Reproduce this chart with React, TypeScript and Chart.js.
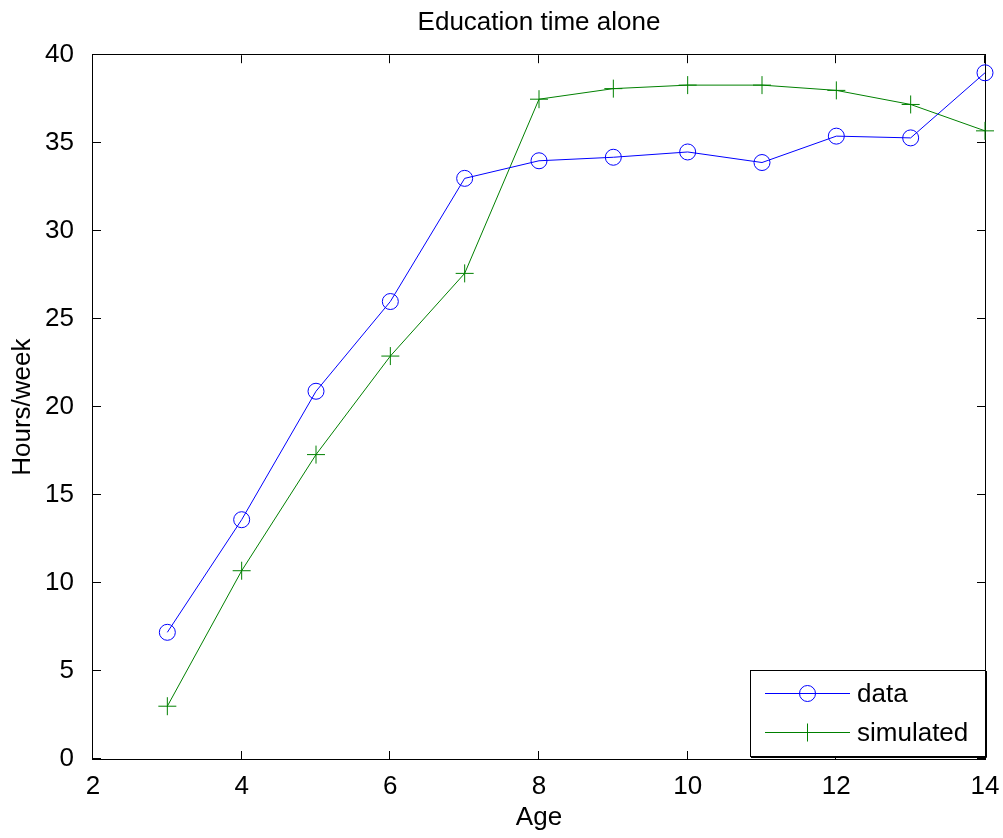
import React, { useEffect, useRef } from 'react';
import { Chart, registerables } from 'chart.js';

Chart.register(...registerables);

const ages = [3, 4, 5, 6, 7, 8, 9, 10, 11, 12, 13, 14];
const dataHours = [7.2, 13.6, 20.9, 26.0, 33.0, 34.0, 34.2, 34.5, 33.9, 35.4, 35.3, 39.0];
const simulatedHours = [3.0, 10.7, 17.3, 22.9, 27.6, 37.5, 38.1, 38.3, 38.3, 38.0, 37.2, 35.7];
const xTickValues = [2, 4, 6, 8, 10, 12, 14];
const yTickValues = [0, 5, 10, 15, 20, 25, 30, 35, 40];
const seriesNames = ['data', 'simulated'];
const chartTitle = 'Education time alone';
const xTitle = 'Age';
const yTitle = 'Hours/week';

const FONT = "'Liberation Sans', Arial, sans-serif";
const BLUE = '#0000ff';
const GREEN = '#008000';

const boxPlugin = {
  id: 'matlabBox',
  beforeDatasetsDraw(chart: any) {
    const { ctx, chartArea } = chart;
    const { left, right, top, bottom } = chartArea;
    const xs = chart.scales.x;
    const ys = chart.scales.y;
    ctx.save();
    ctx.strokeStyle = '#000';
    ctx.lineWidth = 1;
    ctx.strokeRect(Math.round(left) - 0.5, Math.round(top) - 0.5, Math.round(right - left) + 1, Math.round(bottom - top) + 1);
    const tl = 8;
    ctx.beginPath();
    xs.ticks.forEach((t: any) => {
      const px = Math.round(xs.getPixelForValue(t.value)) - 0.5;
      ctx.moveTo(px, bottom);
      ctx.lineTo(px, bottom - tl);
      ctx.moveTo(px, top);
      ctx.lineTo(px, top + tl);
    });
    ys.ticks.forEach((t: any) => {
      const py = Math.round(ys.getPixelForValue(t.value)) - 0.5;
      ctx.moveTo(left, py);
      ctx.lineTo(left + tl, py);
      ctx.moveTo(right, py);
      ctx.lineTo(right - tl, py);
    });
    ctx.stroke();
    ctx.restore();
  },
};

function drawMarker(ctx: CanvasRenderingContext2D, kind: string, x: number, y: number, color: string) {
  ctx.strokeStyle = color;
  ctx.lineWidth = 1;
  ctx.beginPath();
  if (kind === 'circle') {
    ctx.arc(x, y, 8, 0, Math.PI * 2);
  } else {
    ctx.moveTo(x - 9, y);
    ctx.lineTo(x + 9, y);
    ctx.moveTo(x, y - 9);
    ctx.lineTo(x, y + 9);
  }
  ctx.stroke();
}

const legendPlugin = {
  id: 'matlabLegend',
  afterDraw(chart: any) {
    const { ctx, chartArea } = chart;
    const w = 236;
    const h = 87;
    const bx = Math.round(chartArea.right) + 1 - w;
    const by = Math.round(chartArea.bottom) - 2 - h;
    ctx.save();
    ctx.fillStyle = '#fff';
    ctx.fillRect(bx, by, w, h);
    ctx.strokeStyle = '#000';
    ctx.lineWidth = 1;
    ctx.strokeRect(bx + 0.5, by + 0.5, w - 1, h - 1);
    ctx.beginPath();
    ctx.moveTo(bx + w + 0.5, by + 1);
    ctx.lineTo(bx + w + 0.5, by + h + 0.5);
    ctx.lineTo(bx + 1, by + h + 0.5);
    ctx.stroke();
    const rows = [
      { name: seriesNames[0], color: BLUE, kind: 'circle', y: by + 23.5 },
      { name: seriesNames[1], color: GREEN, kind: 'cross', y: by + 62.5 },
    ];
    rows.forEach((r) => {
      ctx.strokeStyle = r.color;
      ctx.lineWidth = 1;
      ctx.beginPath();
      ctx.moveTo(bx + 15, r.y);
      ctx.lineTo(bx + 100, r.y);
      ctx.stroke();
      drawMarker(ctx, r.kind, bx + 57.5, r.y, r.color);
      ctx.fillStyle = '#000';
      ctx.font = `26px ${FONT}`;
      ctx.textBaseline = 'middle';
      ctx.textAlign = 'left';
      ctx.fillText(r.name, bx + 107, r.y + 1);
    });
    ctx.restore();
  },
};

export default function App() {
  const ref = useRef<HTMLCanvasElement | null>(null);

  useEffect(() => {
    document.body.style.margin = '0';
    const canvas = ref.current;
    if (!canvas) return;
    const chart = new Chart(canvas, {
      type: 'line',
      data: {
        datasets: [
          {
            label: seriesNames[0],
            data: ages.map((a, i) => ({ x: a, y: dataHours[i] })),
            borderColor: BLUE,
            borderWidth: 1,
            pointStyle: 'circle',
            pointRadius: 8,
            pointBorderWidth: 1,
            pointBorderColor: BLUE,
            pointBackgroundColor: 'rgba(0,0,0,0)',
            tension: 0,
            fill: false,
            clip: false as any,
          },
          {
            label: seriesNames[1],
            data: ages.map((a, i) => ({ x: a, y: simulatedHours[i] })),
            borderColor: GREEN,
            borderWidth: 1,
            pointStyle: 'cross',
            pointRadius: 9,
            pointBorderWidth: 1,
            pointBorderColor: GREEN,
            pointBackgroundColor: GREEN,
            tension: 0,
            fill: false,
            clip: false as any,
          },
        ],
      },
      options: {
        responsive: false,
        animation: false,
        devicePixelRatio: 1,
        layout: { padding: { left: 0, right: 18, top: 0, bottom: 0 } },
        plugins: {
          legend: { display: false },
          tooltip: { enabled: false },
          title: {
            display: true,
            text: chartTitle,
            color: '#000',
            fullSize: false,
            font: { family: FONT, size: 26, weight: 'normal' },
            padding: { top: 7, bottom: 17 },
          },
        },
        scales: {
          x: {
            type: 'linear',
            min: 2,
            max: 14,
            afterBuildTicks: (scale: any) => {
              scale.ticks = xTickValues.map((v) => ({ value: v }));
            },
            afterFit: (scale: any) => {
              scale.height = 79;
              scale.paddingLeft = 0;
              scale.paddingRight = 0;
            },
            grid: { display: false },
            border: { display: false },
            ticks: {
              color: '#000',
              padding: 4,
              maxRotation: 0,
              autoSkip: false,
              font: { family: FONT, size: 26 },
            },
            title: {
              display: true,
              text: xTitle,
              color: '#000',
              font: { family: FONT, size: 26 },
              padding: { top: 0, bottom: 5 },
            },
          },
          y: {
            type: 'linear',
            min: 0,
            max: 40,
            afterBuildTicks: (scale: any) => {
              scale.ticks = yTickValues.map((v) => ({ value: v }));
            },
            afterFit: (scale: any) => {
              scale.width = 93;
              scale.paddingTop = 0;
              scale.paddingBottom = 0;
            },
            grid: { display: false },
            border: { display: false },
            ticks: {
              color: '#000',
              padding: 11,
              autoSkip: false,
              font: { family: FONT, size: 26 },
            },
            title: {
              display: true,
              text: yTitle,
              color: '#000',
              font: { family: FONT, size: 26 },
              padding: { top: 7, bottom: 0 },
            },
          },
        },
      },
      plugins: [boxPlugin, legendPlugin],
    });
    return () => chart.destroy();
  }, []);

  return (
    <div style={{ width: 1003, height: 838, background: '#fff' }}>
      <canvas ref={ref} width={1003} height={838} style={{ display: 'block', width: 1003, height: 838 }} />
    </div>
  );
}
